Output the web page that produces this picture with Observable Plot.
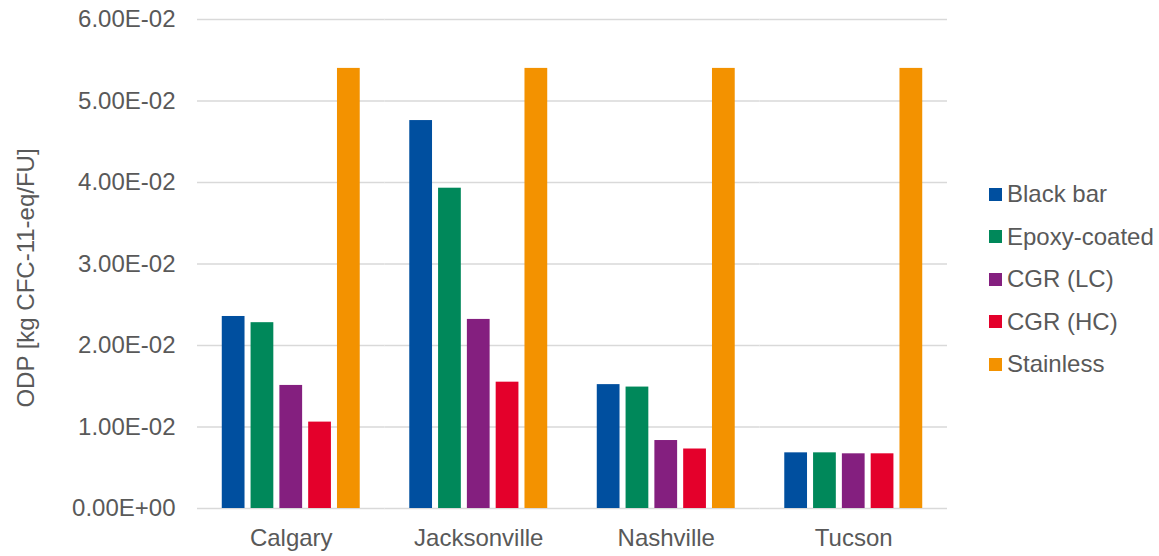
<!DOCTYPE html>
<html>
<head>
<meta charset="utf-8">
<script src="https://cdn.jsdelivr.net/npm/d3@7"></script>
<script src="https://cdn.jsdelivr.net/npm/@observablehq/plot@0.6"></script>
<style>
  html, body { margin: 0; padding: 0; background: #fff; }
  #wrap { position: relative; width: 1159px; height: 556px; overflow: hidden;
          font-family: "Liberation Sans", Arial, sans-serif; color: #595959; }
  #ytitle { position: absolute; left: 26px; top: 278px; transform: translate(-50%, -50%) rotate(-90deg);
            white-space: nowrap; font-size: 24px; line-height: 1; }
  .lg { position: absolute; left: 989px; height: 30px; display: flex; align-items: center;
        font-size: 24px; white-space: nowrap; transform: translateY(-50%); }
  .lg .sw { width: 13px; height: 13px; margin-right: 5px; flex: none; }
</style>
</head>
<body>
<div id="wrap"></div>
<script>
// ---- data ----
const cities = ["Calgary", "Jacksonville", "Nashville", "Tucson"];
const series = ["Black bar", "Epoxy-coated", "CGR (LC)", "CGR (HC)", "Stainless"];
const colors = ["#004f9f", "#00885a", "#841f7f", "#e4002b", "#f39200"];
const blackBar  = [0.02356, 0.0476, 0.0152, 0.00683];
const epoxy     = [0.0228, 0.0393, 0.0149, 0.00683];
const cgrLC     = [0.0151, 0.0232, 0.00834, 0.00671];
const cgrHC     = [0.0106, 0.0155, 0.0073, 0.00671];
const stainless = [0.0540, 0.0540, 0.0540, 0.0540];
const yTicks = [0, 0.01, 0.02, 0.03, 0.04, 0.05, 0.06];
const yTitle = "ODP [kg CFC-11-eq/FU]";

const seriesValues = [blackBar, epoxy, cgrLC, cgrHC, stainless];
const data = [];
cities.forEach((c, i) => series.forEach((s, j) => data.push({city: c, series: s, value: seriesValues[j][i]})));

function fmt(d) {
  const [m, e] = d.toExponential(2).split("e");
  const sign = e[0];
  const num = e.slice(1).padStart(2, "0");
  return m + "E" + sign + num;
}

const plot = Plot.plot({
  width: 1159,
  height: 556,
  marginLeft: 197,
  marginRight: 212,
  marginTop: 19,
  marginBottom: 48,
  style: {fontFamily: "'Liberation Sans', Arial, sans-serif", fontSize: "24px", color: "#595959", background: "transparent"},
  fx: {domain: cities, padding: 0, label: null, axis: "bottom", tickSize: 0, tickPadding: 20, round: false},
  x: {domain: series, paddingInner: 0.21, paddingOuter: 0.86, axis: null, round: false},
  y: {domain: [0, 0.06], ticks: yTicks, tickFormat: fmt, tickSize: 0, tickPadding: 22, label: null},
  color: {domain: series, range: colors},
  marks: [
    Plot.ruleY(yTicks, {stroke: "#d9d9d9", strokeWidth: 1.3}),
    Plot.barY(data, {fx: "city", x: "series", y: "value", fill: "series"})
  ]
});

const wrap = document.getElementById("wrap");
wrap.appendChild(plot);

const t = document.createElement("div");
t.id = "ytitle";
t.textContent = yTitle;
wrap.appendChild(t);

const color = plot.scale("color");
series.forEach((s, i) => {
  const row = document.createElement("div");
  row.className = "lg";
  row.style.top = (194 + 42.5 * i) + "px";
  const sw = document.createElement("div");
  sw.className = "sw";
  sw.style.background = color.apply(s);
  const tx = document.createElement("span");
  tx.textContent = s;
  row.appendChild(sw);
  row.appendChild(tx);
  wrap.appendChild(row);
});
</script>
</body>
</html>
